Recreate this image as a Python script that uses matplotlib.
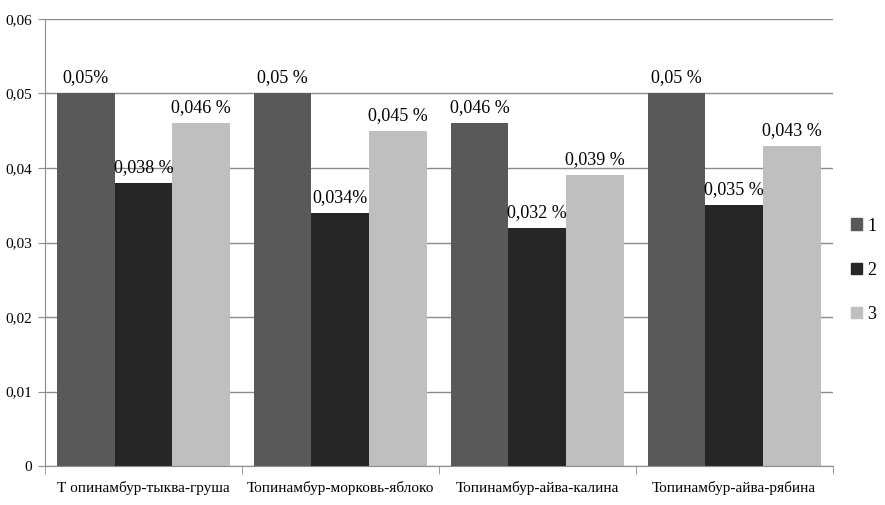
import numpy as np
import matplotlib.pyplot as plt
from matplotlib.patches import Patch

# Данные
categories = ['Т опинамбур-тыква-груша', 'Топинамбур-морковь-яблоко',
              'Топинамбур-айва-калина', 'Топинамбур-айва-рябина']
series1 = [0.05, 0.05, 0.046, 0.05]
series2 = [0.038, 0.034, 0.032, 0.035]
series3 = [0.046, 0.045, 0.039, 0.043]
labels1 = ['0,05%', '0,05 %', '0,046 %', '0,05 %']
labels2 = ['0,038 %', '0,034%', '0,032 %', '0,035 %']
labels3 = ['0,046 %', '0,045 %', '0,039 %', '0,043 %']
names = ['1', '2', '3']
yticks = [0, 0.01, 0.02, 0.03, 0.04, 0.05, 0.06]
ytick_labels = ['0', '0,01', '0,02', '0,03', '0,04', '0,05', '0,06']

colors = ['#595959', '#262626', '#bfbfbf']
plt.rcParams['font.family'] = ['Liberation Serif', 'DejaVu Serif']

fig = plt.figure(figsize=(8.85, 5.05), dpi=100)
ax = fig.add_axes([0.0508, 0.0772, 0.8900, 0.8852])

x = np.arange(len(categories))
w = 0.293
for i, (vals, labs) in enumerate(zip([series1, series2, series3],
                                      [labels1, labels2, labels3])):
    pos = x + (i - 1) * w
    ax.bar(pos, vals, width=w, color=colors[i], zorder=2)
    for p, v, t in zip(pos, vals, labs):
        ax.annotate(t, (p, v), xytext=(0, 5), textcoords='offset points',
                    ha='center', va='bottom', fontsize=13, zorder=3)

ax.set_xlim(-0.5, len(categories) - 0.5)
ax.set_ylim(0, 0.06)
ax.set_yticks(yticks)
ax.set_yticklabels(ytick_labels, fontsize=11)
ax.yaxis.grid(True, color='#8c8c8c', linewidth=1, zorder=0)
ax.set_axisbelow(True)

ax.set_xticks(x)
ax.set_xticklabels(categories, fontsize=11)
ax.tick_params(axis='x', length=0, pad=11)
ax.set_xticks(np.arange(-0.5, len(categories)), minor=True)
ax.tick_params(axis='x', which='minor', length=6, color='#8c8c8c')
ax.tick_params(axis='y', length=5, color='#8c8c8c', pad=4)

for s in ['top', 'right']:
    ax.spines[s].set_visible(False)
ax.spines['left'].set_color('#8c8c8c')
ax.spines['bottom'].set_color('#8c8c8c')

handles = [Patch(color=c) for c in colors]
fig.legend(handles, names, loc='center left', bbox_to_anchor=(0.962, 0.465),
           frameon=False, fontsize=13, handlelength=0.6, handleheight=0.6,
           handletextpad=0.3, labelspacing=1.5, borderpad=0, borderaxespad=0)

fig.savefig('out.png', dpi=100)
